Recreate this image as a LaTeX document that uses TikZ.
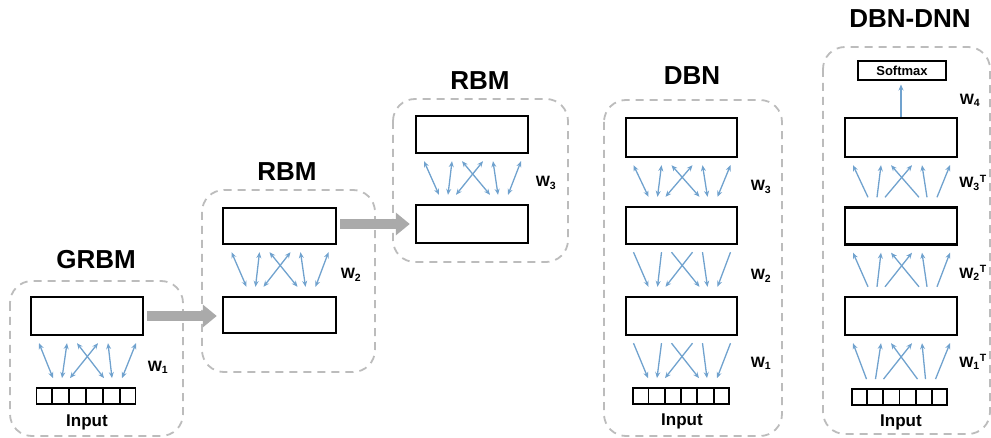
\documentclass[tikz,border=0pt]{standalone}
\usepackage{fontspec}
\setmainfont{Liberation Sans}
\usetikzlibrary{arrows.meta,calc}
\definecolor{linkblue}{RGB}{112,162,206}
\definecolor{framegray}{RGB}{188,188,188}
\definecolor{pipegray}{RGB}{170,170,170}
\tikzset{
  layer/.style={rectangle, draw=black, line width=2.4pt, minimum width=112pt, minimum height=38pt, inner sep=0pt},
  inrow/.style={rectangle, draw=black, line width=1.8pt, minimum width=96pt, minimum height=16pt, inner sep=0pt},
  softbox/.style={rectangle, draw=black, line width=2pt, minimum width=88pt, minimum height=19pt, inner sep=0pt, font=\fontsize{13}{15}\selectfont\bfseries},
  frame/.style={draw=framegray, line width=1.8pt, dash pattern=on 8pt off 6pt, rounded corners=22pt},
  title/.style={font=\fontsize{26}{30}\selectfont\bfseries},
  inlabel/.style={font=\fontsize{17}{20}\selectfont\bfseries},
  wlabel/.style={font=\fontsize{15}{18}\selectfont\bfseries},
  link/.style={linkblue, line width=1.3pt},
  bilink/.style={link, {Stealth[length=6pt,width=5pt]}-{Stealth[length=6pt,width=5pt]}},
  downlink/.style={link, -{Stealth[length=6pt,width=5pt]}},
  uplink/.style={link, {Stealth[length=6pt,width=5pt]}-},
  pipe/.style={pipegray, line width=10pt, -{Triangle[length=14pt,width=22pt]}, shorten <=3pt, shorten >=5pt},
}
% six weights between an upper and a lower layer
\newcommand{\wlinks}[3]{%
  \foreach \a/\b in {-48/-33,-20/-24,-10/18,11/-16,21/26,49/36}
    \draw[#3] ([xshift=\a pt,yshift=-7pt]#1.south) -- ([xshift=\b pt,yshift=9pt]#2.north);}
% input cells
\newcommand{\incells}[1]{%
  \foreach \i in {1,...,5}
    \draw[line width=1.8pt] ($(#1.north west)!\i/6!(#1.north east)$) -- ($(#1.south west)!\i/6!(#1.south east)$);}

\begin{document}
\begin{tikzpicture}[x=1pt,y=-1pt]
\useasboundingbox (0,0) rectangle (991,438);

% frames
\draw[frame] (10,281) rectangle (183,436);
\draw[frame] (202,190) rectangle (375,372);
\draw[frame] (393,99) rectangle (568,262);
\draw[frame] (604,100) rectangle (782,436);
\draw[frame] (823,47) rectangle (990,434);

% GRBM
\node[title] (gtitle) at (96,260) {GRBM};
\node[layer] (gh) at (87,316) {};
\node[inrow, minimum width=99pt] (gin) at (86,396) {};
\incells{gin}
\node[inlabel] (gintxt) at (87,422) {Input};
\wlinks{gh}{gin}{bilink}
\node[wlabel] (gw) at (158,367) {W\textsubscript{1}};

% first RBM
\node[title] (atitle) at (287,172) {RBM};
\node[layer, minimum width=113pt, minimum height=36pt] (ah) at (279.5,226) {};
\node[layer, minimum width=113pt, minimum height=36pt] (av) at (279.5,315) {};
\wlinks{ah}{av}{bilink}
\node[wlabel] (aw) at (351,275) {W\textsubscript{2}};

% second RBM
\node[title] (btitle) at (480,81) {RBM};
\node[layer, minimum height=37pt] (bh) at (472,134.5) {};
\node[layer] (bv) at (472,224) {};
\wlinks{bh}{bv}{bilink}
\node[wlabel] (bw) at (546,183) {W\textsubscript{3}};

% stacking arrows
\draw[pipe] (gh.east) -- (gh.east -| av.west);
\draw[pipe] (ah.east |- bv.west) -- (bv.west);

% DBN
\node[title] (dtitle) at (692,76) {DBN};
\node[layer, minimum width=111pt, minimum height=39pt] (d3) at (681.5,137.5) {};
\node[layer, minimum width=111pt, minimum height=37pt] (d2) at (681.5,225.5) {};
\node[layer, minimum width=111pt] (d1) at (681.5,316) {};
\node[inrow] (din) at (681,396) {};
\incells{din}
\node[inlabel] (dintxt) at (682,421) {Input};
\wlinks{d3}{d2}{bilink}
\wlinks{d2}{d1}{downlink}
\wlinks{d1}{din}{downlink}
\node[wlabel] (dw3) at (761,187) {W\textsubscript{3}};
\node[wlabel] (dw2) at (761,276) {W\textsubscript{2}};
\node[wlabel] (dw1) at (761,363) {W\textsubscript{1}};

% DBN-DNN
\node[title] (ntitle) at (910,19) {DBN-DNN};
\node[softbox] (soft) at (902,71) {Softmax};
\node[layer, minimum height=39pt] (n3) at (901,137.5) {};
\node[layer, minimum height=37pt] (n2) at (901,226) {};
\node[layer] (n1) at (901,316) {};
\node[inrow, minimum width=95pt] (nin) at (899.5,397) {};
\incells{nin}
\node[inlabel] (nintxt) at (901,422) {Input};
\draw[uplink] ([yshift=-3pt]n3.north |- soft.south) -- (n3.north);
\wlinks{n3}{n2}{uplink}
\wlinks{n2}{n1}{uplink}
\wlinks{n1}{nin}{uplink}
\node[wlabel] (nw4) at (970,100) {W\textsubscript{4}};
\node[wlabel] (nw3) at (973,183) {W\textsubscript{3}\textsuperscript{T}};
\node[wlabel] (nw2) at (973,273) {W\textsubscript{2}\textsuperscript{T}};
\node[wlabel] (nw1) at (973,362) {W\textsubscript{1}\textsuperscript{T}};
\end{tikzpicture}
\end{document}
